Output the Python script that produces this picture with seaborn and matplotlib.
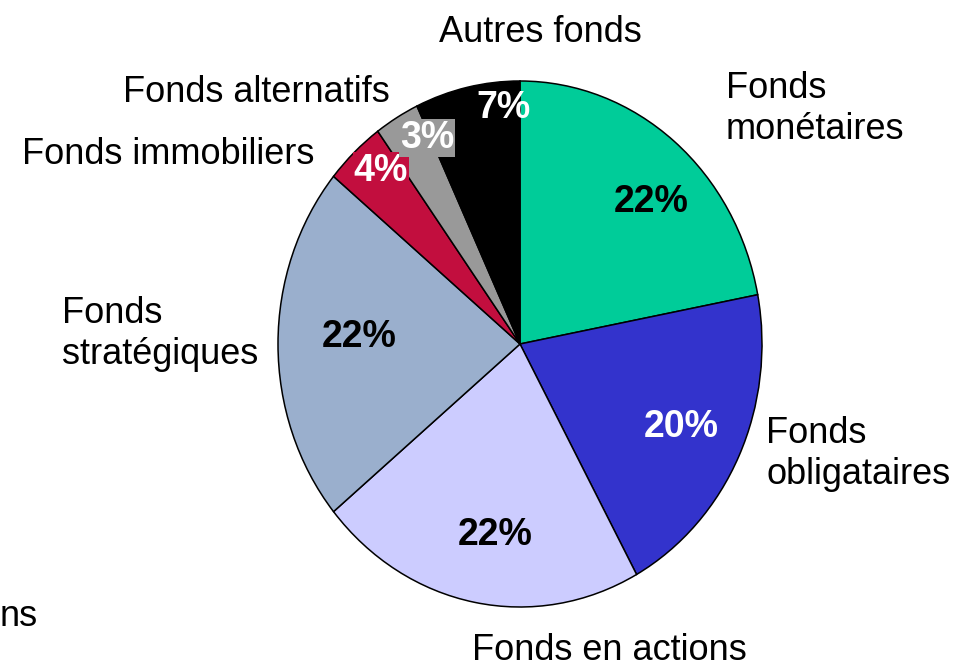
import matplotlib
matplotlib.use("Agg")
import matplotlib.pyplot as plt
import seaborn as sns

# data
categories = ["Fonds monétaires", "Fonds obligataires", "Fonds en actions",
              "Fonds stratégiques", "Fonds immobiliers", "Fonds alternatifs",
              "Autres fonds"]
shares = [22, 20, 22, 22, 4, 3, 7]
colors = ["#00CC99", "#3333CC", "#CCCCFF", "#9AAFCD", "#C20E3E", "#999999", "#000000"]
pct_colors = ["black", "white", "black", "black", "white", "white", "white"]
label_texts = ["Fonds\nmonétaires", "Fonds\nobligataires", "Fonds en actions",
               "Fonds\nstratégiques", "Fonds immobiliers", "Fonds alternatifs",
               "Autres fonds"]

sns.set_theme(style="white")
plt.rcParams["font.family"] = ["Liberation Sans", "DejaVu Sans"]

W, H = 959, 669
fig = plt.figure(figsize=(W / 100, H / 100), dpi=100)

# pie is slightly elliptical in the original: rx ~242 px, ry ~263 px
cx, cy, rx, ry = 520, 344, 242, 263
pad = 1.03
ax = fig.add_axes([(cx - rx * pad) / W, (H - cy - ry * pad) / H,
                   2 * rx * pad / W, 2 * ry * pad / H])
wedges, texts, autotexts = ax.pie(
    shares, colors=colors, startangle=90, counterclock=False,
    autopct="%.0f%%", pctdistance=0.6,
    wedgeprops=dict(edgecolor="black", linewidth=1.1))
ax.set_xlim(-pad, pad)
ax.set_ylim(-pad, pad)
ax.set_aspect("auto")
ax.axis("off")


def fx(px):
    return px / W


def fy(py):
    return 1 - py / H


# percentage labels placed like the original
pct_pos = [(651, 202), (681, 427), (495, 535), (359, 337), (381, 171), (427, 138), (503, 108)]
pct_bg = [None, None, None, None, "#C20E3E", "#999999", None]
for t, (px, py), c, bg in zip(autotexts, pct_pos, pct_colors, pct_bg):
    t.set_transform(fig.transFigure)
    t.set_position((fx(px), fy(py)))
    t.set_color(c)
    t.set_fontsize(27)
    t.set_fontweight("bold")
    t.set_ha("center")
    t.set_va("center")
    if bg:
        t.set_bbox(dict(facecolor=bg, edgecolor="none", pad=0.5))

# category labels
lab_pos = [(726, 109, "left"), (766, 454, "left"), (609, 651, "center"),
           (62, 334, "left"), (168, 155, "center"), (256, 93, "center"),
           (540, 33, "center")]
for txt, (px, py, ha) in zip(label_texts, lab_pos):
    fig.text(fx(px), fy(py), txt, fontsize=26, ha=ha, va="center",
             linespacing=1.2, color="black")

# cut-off leftover label at bottom left
fig.text(fx(0), fy(617), "ns", fontsize=26, ha="left", va="center", color="black")

fig.savefig("out.png", dpi=100, facecolor="white")
